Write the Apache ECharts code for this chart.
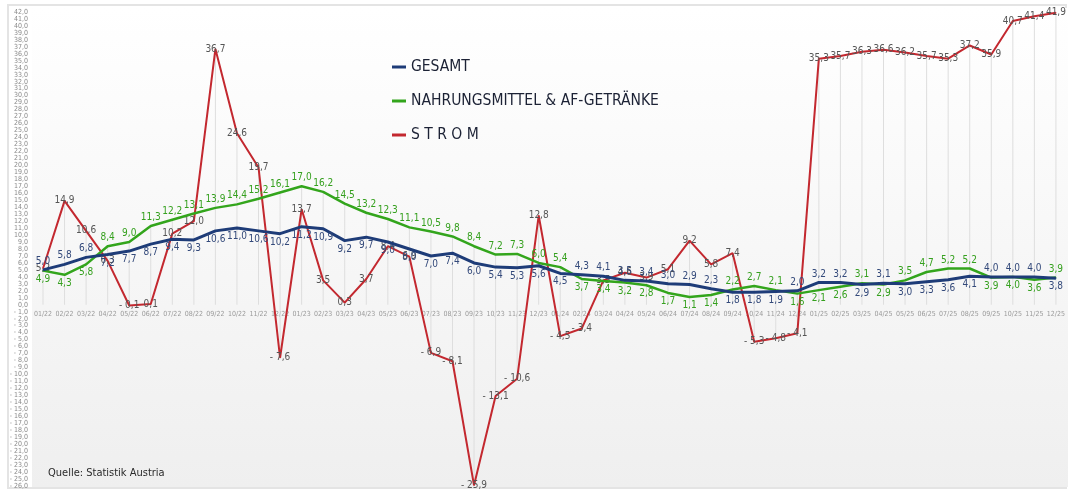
<!DOCTYPE html>
<html>
<head>
<meta charset="utf-8">
<script src="https://cdn.jsdelivr.net/npm/echarts@6/dist/echarts.min.js"></script>
<style>
html, body { margin: 0; padding: 0; background: #fff; }
#main { width: 1068px; height: 493px; }
</style>
</head>
<body>
<div id="main"></div>
<script>
var months = ['01/22','02/22','03/22','04/22','05/22','06/22','07/22','08/22','09/22','10/22','11/22','12/22',
	'01/23','02/23','03/23','04/23','05/23','06/23','07/23','08/23','09/23','10/23','11/23','12/23',
	'01/24','02/24','03/24','04/24','05/24','06/24','07/24','08/24','09/24','10/24','11/24','12/24',
	'01/25','02/25','03/25','04/25','05/25','06/25','07/25','08/25','09/25','10/25','11/25','12/25'];

var gesamt = [5.0, 5.8, 6.8, 7.2, 7.7, 8.7, 9.4, 9.3, 10.6, 11.0, 10.6, 10.2,
	11.2, 10.9, 9.2, 9.7, 9.0, 8.0, 7.0, 7.4, 6.0, 5.4, 5.3, 5.6,
	4.5, 4.3, 4.1, 3.5, 3.4, 3.0, 2.9, 2.3, 1.8, 1.8, 1.9, 2.0,
	3.2, 3.2, 2.9, 3.1, 3.0, 3.3, 3.6, 4.1, 4.0, 4.0, 4.0, 3.8];

var nahrung = [4.9, 4.3, 5.8, 8.4, 9.0, 11.3, 12.2, 13.1, 13.9, 14.4, 15.2, 16.1,
	17.0, 16.2, 14.5, 13.2, 12.3, 11.1, 10.5, 9.8, 8.4, 7.2, 7.3, 6.0,
	5.4, 3.7, 3.4, 3.2, 2.8, 1.7, 1.1, 1.4, 2.2, 2.7, 2.1, 1.6,
	2.1, 2.6, 3.1, 2.9, 3.5, 4.7, 5.2, 5.2, 3.9, 4.0, 3.6, 3.9];

var strom = [5.2, 14.9, 10.6, 6.3, -0.1, 0.1, 10.2, 12.0, 36.7, 24.6, 19.7, -7.6,
	13.7, 3.5, 0.3, 3.7, 8.4, 6.9, -6.9, -8.1, -25.9, -13.1, -10.6, 12.8,
	-4.5, -3.4, 3.5, 4.6, 3.9, 5.1, 9.2, 5.8, 7.4, -5.3, -4.8, -4.1,
	35.3, 35.7, 36.3, 36.6, 36.2, 35.7, 35.3, 37.2, 35.9, 40.7, 41.4, 41.9];

var names = ['GESAMT', 'NAHRUNGSMITTEL & AF-GETRÄNKE', 'S T R O M'];

function fmt(v) {
	var s = Math.abs(v).toFixed(1).replace('.', ',');
	return v < 0 ? '- ' + s : s;
}

var chart = echarts.init(document.getElementById('main'));

// drop lines from 0 to the highest / lowest point of each month
var upLines = [], downLines = [];
for (var i = 0; i < months.length; i++) {
	upLines.push(Math.max(gesamt[i], nahrung[i], strom[i], 0));
	downLines.push(Math.min(gesamt[i], nahrung[i], strom[i], 0));
}

var gData = [], nData = [];
for (var j = 0; j < months.length; j++) {
	var gTop = gesamt[j] >= nahrung[j];
	gData.push({ value: gesamt[j], label: { position: gTop ? 'top' : 'bottom' } });
	nData.push({ value: nahrung[j], label: { position: gTop ? 'bottom' : 'top' } });
}

var font = '"DejaVu Sans Condensed", "Liberation Sans Narrow", "Open Sans", sans-serif';
var yMin = -26, yMax = 42;
var gridTop = 12, gridBottom = 7;
// put the month labels on the zero line
var zeroOffset = -Math.round((0 - yMin) / (yMax - yMin) * (493 - gridTop - gridBottom));

var option = {
	animation: false,
	graphic: [
		{
			type: 'rect',
			shape: { x: 8, y: 5, width: 1058, height: 483 },
			style: { fill: '#fff', stroke: '#e4e4e4', lineWidth: 2 }
		},
		{
			type: 'rect',
			shape: { x: 32, y: 8, width: 1036, height: 479 },
			style: {
				fill: new echarts.graphic.LinearGradient(0, 0, 0, 1, [
					{ offset: 0, color: '#ffffff' },
					{ offset: 1, color: '#efefef' }
				])
			}
		}
	],
	title: {
		text: 'Quelle: Statistik Austria',
		left: 43,
		top: 463,
		textStyle: { fontSize: 11, fontWeight: 'normal', color: '#2a2a2a', fontFamily: font }
	},
	legend: {
		data: names,
		orient: 'vertical',
		left: 392,
		top: 59,
		itemGap: 18,
		itemWidth: 14,
		itemHeight: 3,
		icon: 'rect',
		padding: 0,
		textStyle: { fontSize: 15.5, color: '#1c2235', fontFamily: font }
	},
	grid: { left: 43, right: 5, top: gridTop, bottom: gridBottom, containLabel: false },
	xAxis: {
		type: 'category',
		data: months,
		boundaryGap: false,
		offset: zeroOffset,
		axisLine: { onZero: false, show: false },
		axisTick: { show: false },
		axisLabel: { interval: 0, fontSize: 7, color: '#9a9a9a', margin: 6, fontFamily: font },
		splitLine: { show: false }
	},
	yAxis: {
		type: 'value',
		min: yMin,
		max: yMax,
		interval: 1,
		axisLine: { show: false },
		axisTick: { show: false },
		splitLine: { show: false },
		axisLabel: { fontSize: 7, color: '#8a8a8a', margin: 15, formatter: fmt, fontFamily: font }
	},
	series: [
		{
			type: 'bar', data: upLines, barWidth: 1, silent: true, z: 1,
			itemStyle: { color: '#dedede' }
		},
		{
			type: 'bar', data: downLines, barWidth: 1, barGap: '-100%', silent: true, z: 1,
			itemStyle: { color: '#dedede' }
		},
		{
			name: names[2], type: 'line', data: strom, z: 3,
			symbol: 'circle', symbolSize: 1, showSymbol: true,
			lineStyle: { color: '#c3282f', width: 2 },
			itemStyle: { color: '#c3282f' },
			label: {
				show: true, position: 'inside', formatter: function(p) { return fmt(p.value); },
				fontSize: 10, color: '#555', fontFamily: font
			}
		},
		{
			name: names[1], type: 'line', data: nData, z: 4,
			symbol: 'circle', symbolSize: 1, showSymbol: true,
			lineStyle: { color: '#33a51c', width: 2.5 },
			itemStyle: { color: '#33a51c' },
			label: {
				show: true, distance: 3, formatter: function(p) { return fmt(p.value); },
				fontSize: 10, color: '#35a01e', fontFamily: font
			}
		},
		{
			name: names[0], type: 'line', data: gData, z: 5,
			symbol: 'circle', symbolSize: 1, showSymbol: true,
			lineStyle: { color: '#1e3c78', width: 3 },
			itemStyle: { color: '#1e3c78' },
			label: {
				show: true, distance: 3, formatter: function(p) { return fmt(p.value); },
				fontSize: 10, color: '#33497a', fontFamily: font
			}
		}
	]
};

chart.setOption(option);
</script>
</body>
</html>
